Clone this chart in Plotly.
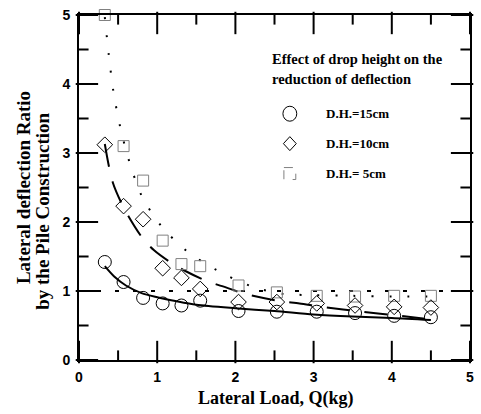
import plotly.graph_objects as go

# Lateral load steps (kg)
load = [0.33, 0.57, 0.82, 1.07, 1.31, 1.55, 2.04, 2.53, 3.04, 3.53, 4.03, 4.50]

# Measured deflection ratios for each drop height
ratio_15cm = [1.42, 1.13, 0.90, 0.82, 0.79, 0.86, 0.71, 0.70, 0.70, 0.68, 0.64, 0.62]
ratio_10cm = [3.12, 2.23, 2.04, 1.33, 1.19, 1.03, 0.84, 0.84, 0.82, 0.79, 0.77, 0.76]
ratio_5cm = [5.00, 3.10, 2.60, 1.73, 1.39, 1.36, 1.08, 0.98, 0.93, 0.92, 0.93, 0.93]

# Fitted trend curves
fit15_x = [0.33, 0.45, 0.60, 0.80, 1.00, 1.25, 1.50, 2.00, 2.50, 3.00, 3.50, 4.00, 4.50]
fit15_y = [1.36, 1.21, 1.08, 0.97, 0.91, 0.85, 0.80, 0.75, 0.71, 0.66, 0.63, 0.61, 0.58]

fit10_x = [0.33, 0.43, 0.58, 0.81, 0.96, 1.19, 1.36, 1.64, 1.83, 2.12, 2.54, 2.82, 3.11, 3.62, 4.10, 4.50]
fit10_y = [3.13, 2.58, 2.19, 1.77, 1.59, 1.40, 1.29, 1.14, 1.07, 0.96, 0.86, 0.82, 0.77, 0.70, 0.64, 0.59]

fit5_x = [0.33, 0.38, 0.44, 0.53, 0.65, 0.81, 1.06, 1.39, 1.78, 2.20, 2.60, 3.00, 3.50, 4.00, 4.50]
fit5_y = [4.97, 4.43, 3.89, 3.36, 2.85, 2.36, 1.93, 1.57, 1.29, 1.07, 0.96, 0.94, 0.93, 0.92, 0.92]

# Reference level (no reduction)
ref_x = [0, 5]
ref_y = [1, 1]

# Axis ticks
major_ticks = [0, 1, 2, 3, 4, 5]
minor_ticks = [0.5, 1.5, 2.5, 3.5, 4.5]

legend_title = ["Effect of drop height on the", "reduction of deflection"]
legend_labels = ["D.H.=15cm", "D.H.=10cm", "D.H.= 5cm"]

SERIF = "Liberation Serif, Times New Roman, serif"
SANS = "Liberation Sans, Arial, sans-serif"

# plot area in pixels: left 79, right 474, top 14, bottom 360
L, R, T, B = 79, 474, 14, 360
W, H = R - L, B - T
X_LO, X_HI, Y_LO, Y_HI = 0, 5, 0, 5

fig = go.Figure()

# inward tick marks drawn as short line markers (major 16 px, minor 8 px)
for vals, length in ((major_ticks, 16), (minor_ticks, 8)):
    off_x = length / 2 / W * (X_HI - X_LO)
    off_y = length / 2 / H * (Y_HI - Y_LO)
    # bottom and top
    fig.add_trace(go.Scatter(
        x=vals + vals, y=[Y_LO + off_y] * len(vals) + [Y_HI - off_y] * len(vals),
        mode="markers", cliponaxis=False, showlegend=False, hoverinfo="skip",
        marker=dict(symbol="line-ns", size=length, color="black", line=dict(width=2, color="black"))))
    # left and right
    fig.add_trace(go.Scatter(
        x=[X_LO + off_x] * len(vals) + [X_HI - off_x] * len(vals), y=vals + vals,
        mode="markers", cliponaxis=False, showlegend=False, hoverinfo="skip",
        marker=dict(symbol="line-ew", size=length, color="black", line=dict(width=2, color="black"))))

fig.add_trace(go.Scatter(x=ref_x, y=ref_y, mode="lines",
                         line=dict(color="black", width=2, dash="4px,14px"),
                         showlegend=False, hoverinfo="skip"))

fig.add_trace(go.Scatter(x=fit5_x, y=fit5_y, mode="lines",
                         line=dict(color="black", width=2, dash="2px,16px", shape="spline", smoothing=0.8),
                         showlegend=False))
fig.add_trace(go.Scatter(x=fit10_x, y=fit10_y, mode="lines",
                         line=dict(color="black", width=2, dash="23px,15px", shape="spline", smoothing=0.8),
                         showlegend=False))
fig.add_trace(go.Scatter(x=fit15_x, y=fit15_y, mode="lines",
                         line=dict(color="black", width=2, shape="spline", smoothing=0.8),
                         showlegend=False))

fig.add_trace(go.Scatter(x=load, y=ratio_5cm, mode="markers", name=legend_labels[2],
                         marker=dict(symbol="square-open", size=11, color="#808080", line=dict(width=1)),
                         cliponaxis=False, showlegend=False))
fig.add_trace(go.Scatter(x=load, y=ratio_10cm, mode="markers", name=legend_labels[1],
                         marker=dict(symbol="diamond-open", size=12, color="black", line=dict(width=1)),
                         cliponaxis=False, showlegend=False))
fig.add_trace(go.Scatter(x=load, y=ratio_15cm, mode="markers", name=legend_labels[0],
                         marker=dict(symbol="circle-open", size=13, color="black", line=dict(width=1)),
                         cliponaxis=False, showlegend=False))


def px(x):
    return (x - L) / W


def py(y):
    return (B - y) / H


annotations = []
# axis titles
annotations.append(dict(text="Lateral Load, Q(kg)", x=px(278), y=py(399), xref="paper", yref="paper",
                        showarrow=False, xanchor="center", yanchor="middle",
                        font=dict(family=SERIF, size=18, color="black", weight="bold")))
annotations.append(dict(text="Lateral deflection Ratio", x=px(23), y=py(187), xref="paper", yref="paper",
                        showarrow=False, textangle=-90, xanchor="center", yanchor="middle",
                        font=dict(family=SERIF, size=19, color="black", weight="bold")))
annotations.append(dict(text="by the Pile Construction", x=px(42), y=py(211), xref="paper", yref="paper",
                        showarrow=False, textangle=-90, xanchor="center", yanchor="middle",
                        font=dict(family=SERIF, size=19, color="black", weight="bold")))

# legend block
for i, line in enumerate(legend_title):
    annotations.append(dict(text=line, x=px(272), y=py(58 + 20 * i), xref="paper", yref="paper",
                            showarrow=False, xanchor="left", yanchor="middle",
                            font=dict(family=SERIF, size=14.5, color="black", weight="bold")))
for i, lab in enumerate(legend_labels):
    annotations.append(dict(text=lab, x=px(327), y=py(113 + 30 * i), xref="paper", yref="paper",
                            showarrow=False, xanchor="left", yanchor="middle",
                            font=dict(family=SERIF, size=13, color="black", weight="bold")))

shapes = [
    dict(type="circle", xref="paper", yref="paper",
         x0=px(285), x1=px(299), y0=py(105.5), y1=py(120.5),
         line=dict(color="black", width=1)),
    dict(type="path", xref="paper", yref="paper",
         path="M {a},{b} L {c},{d} L {a},{e} L {f},{d} Z".format(
             a=px(292), b=py(136), c=px(298.5), d=py(143), e=py(150), f=px(285.5)),
         line=dict(color="black", width=1)),
    dict(type="rect", xref="paper", yref="paper",
         x0=px(286), x1=px(298), y0=py(167), y1=py(179),
         line=dict(color="#808080", width=1, dash="dash")),
]

tick_font = dict(family=SANS, size=14, color="black", weight="bold")

axis_common = dict(
    range=[0, 5], tickmode="array", tickvals=major_ticks,
    showline=True, linewidth=2, linecolor="black", mirror=True,
    ticks="", showgrid=False, zeroline=False, tickfont=tick_font,
)

fig.update_layout(
    width=481, height=414,
    margin=dict(l=L, r=481 - R, t=T, b=414 - B),
    paper_bgcolor="white", plot_bgcolor="white",
    xaxis=dict(**axis_common, ticklabelstandoff=3),
    yaxis=dict(**axis_common, ticklabelstandoff=4),
    annotations=annotations, shapes=shapes,
    showlegend=False,
)

fig.write_html("out.html")
